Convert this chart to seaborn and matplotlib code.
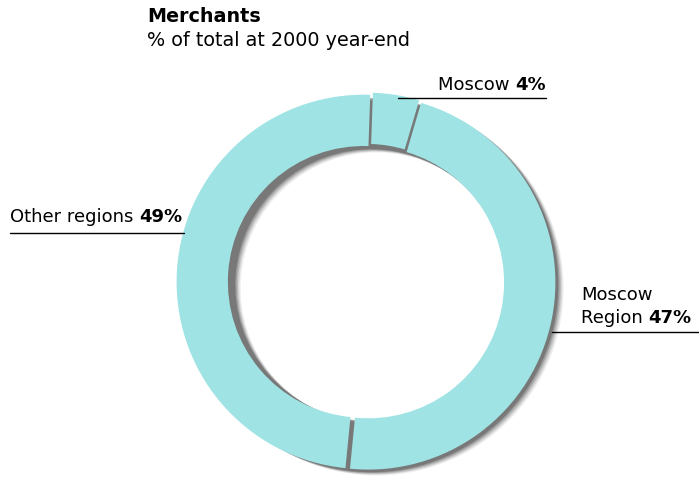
import seaborn as sns
import matplotlib.pyplot as plt

# Data
segments = ['Moscow', 'Moscow Region', 'Other regions']
shares = [4, 47, 49]
ring_color = '#a0e3e4'

sns.set_style("white")
plt.rcParams['font.family'] = ['DejaVu Sans']
plt.rcParams['text.color'] = 'black'
FS = 13
FS_TITLE = 13.8

W, H = 699, 483
fig = plt.figure(figsize=(W / 100, H / 100), dpi=100)

# donut centre / radius in pixels
cx, cy, r = 366, 282, 190
ax = fig.add_axes([(cx - r) / W, (H - cy - r) / H, 2 * r / W, 2 * r / H])
ax.axis('off')

ring_w = 0.27

# soft shadow, offset down and right
for k, a in enumerate([0.08, 0.12, 0.16, 0.22, 0.3]):
    off = 0.055 - k * 0.007
    ax.pie(shares, radius=0.985, startangle=88, counterclock=False,
           colors=['#2a2a2a'] * 3, center=(off, -off * 0.6),
           wedgeprops=dict(width=ring_w, alpha=a, linewidth=0))

ax.pie(shares, radius=0.985, startangle=88, counterclock=False,
       colors=[ring_color] * 3, explode=[0.012] * 3,
       wedgeprops=dict(width=ring_w, linewidth=0))
ax.set_aspect('equal')
ax.set_xlim(-1.0, 1.0)
ax.set_ylim(-1.0, 1.0)


def px(x, y):
    return x / W, 1 - y / H


# Title
fig.text(*px(147, 17), "Merchants", fontsize=FS_TITLE, fontweight='bold', va='center')
fig.text(*px(147, 41), "% of total at 2000 year-end", fontsize=FS_TITLE, va='center')

fig.canvas.draw()
renderer = fig.canvas.get_renderer()


def label(x, y, normal, bold, ha='left'):
    t1 = fig.text(*px(x, y), normal, fontsize=FS, va='center')
    w1 = t1.get_window_extent(renderer).width
    t2 = fig.text(0, 0, bold, fontsize=FS, fontweight='bold', va='center')
    w2 = t2.get_window_extent(renderer).width
    if ha == 'right':
        x0 = x - w1 - w2
        t1.set_position(px(x0, y))
    else:
        x0 = x
    t2.set_position(px(x0 + w1, y))


def rule(x0, x1, y):
    fig.add_artist(plt.Line2D([x0 / W, x1 / W], [1 - y / H] * 2,
                              color='black', linewidth=1))


label(546, 85, "Moscow ", "4%", ha='right')
rule(398, 546, 98)

label(182, 217, "Other regions ", "49%", ha='right')
rule(10, 184, 233)

fig.text(*px(581, 295), "Moscow", fontsize=FS, va='center')
label(581, 318, "Region ", "47%")
rule(552, 699, 332)

fig.savefig("out.png", dpi=100)
